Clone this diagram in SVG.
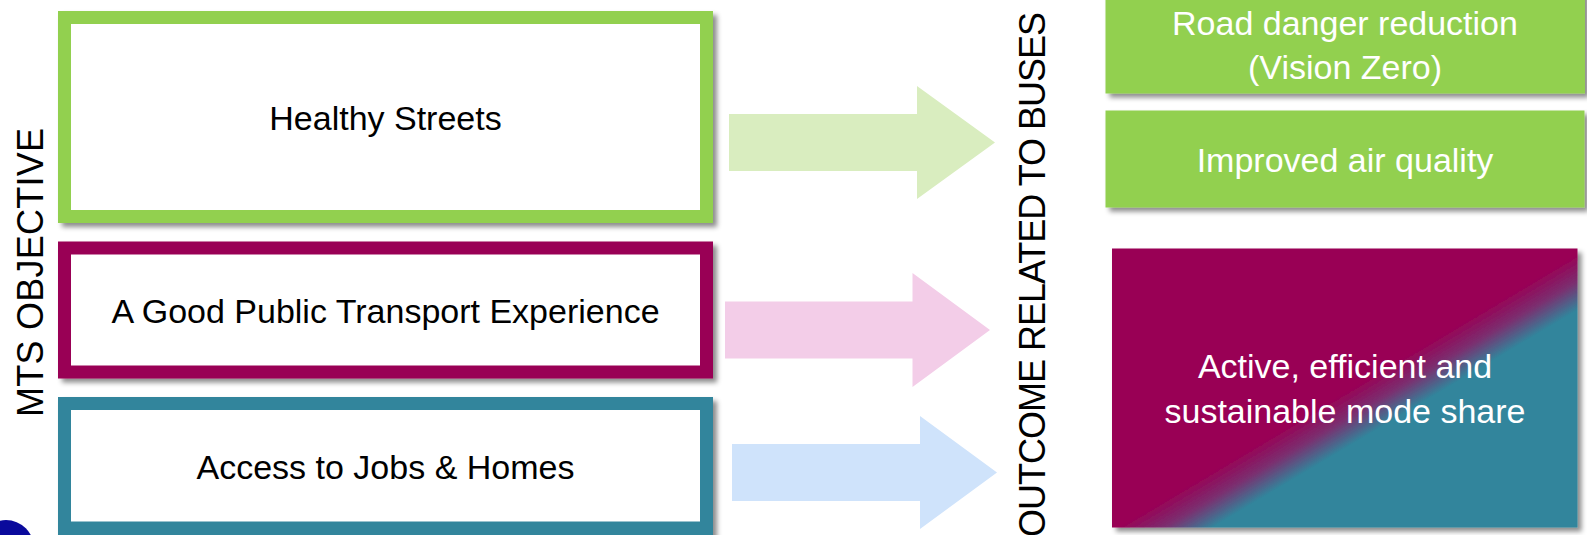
<svg xmlns="http://www.w3.org/2000/svg" width="1587" height="535" viewBox="0 0 1587 535">
  <style>
    text { font-family: "Liberation Sans", Arial, sans-serif; }
    .lbl { font-size: 34px; fill: #000; text-anchor: middle; }
    .wlbl { font-size: 34px; fill: #fff; text-anchor: middle; }
    .side { font-size: 36px; fill: #000; text-anchor: middle; }
    .inner { fill: #fff; }
  </style>
  <defs>
    <filter id="shadow" x="-5%" y="-10%" width="115%" height="130%">
      <feDropShadow dx="4" dy="4" stdDeviation="2.5" flood-color="#000" flood-opacity="0.45"/>
    </filter>
    <linearGradient id="modeGrad" gradientUnits="userSpaceOnUse" x1="1358" y1="384" x2="1383" y2="426">
      <stop offset="0" stop-color="#990055"/>
      <stop offset="0.5" stop-color="#7a3070"/>
      <stop offset="1" stop-color="#31859c"/>
    </linearGradient>
  </defs>
  <rect width="1587" height="535" fill="#fff"/>

  <circle cx="6" cy="548" r="28" fill="#0a0a9c"/>

  <text class="side" transform="translate(43,272.5) rotate(-90)" textLength="289" lengthAdjust="spacing">MTS OBJECTIVE</text>
  <text class="side" transform="translate(1045,274.5) rotate(-90)" textLength="525" lengthAdjust="spacing">OUTCOME RELATED TO BUSES</text>

  <g id="connectors">
    <polygon fill="#d9edbf" points="729,114 917,114 917,86 995,142.5 917,199 917,171 729,171"/>
    <polygon fill="#f3cde8" points="725,301.5 912.5,301.5 912.5,273 990,330 912.5,387 912.5,358.5 725,358.5"/>
    <polygon fill="#cfe3fb" points="732,444 920,444 920,416 997,472.5 920,529 920,501 732,501"/>
  </g>

  <g id="node-healthy-streets">
    <rect x="58" y="11" width="655" height="212" fill="#92d050" filter="url(#shadow)"/>
    <rect class="inner" x="71" y="24" width="629" height="186"/>
    <text class="lbl" x="385.5" y="130">Healthy Streets</text>
  </g>

  <g id="node-public-transport">
    <rect x="58" y="241.5" width="655" height="137" fill="#990055" filter="url(#shadow)"/>
    <rect class="inner" x="71" y="254.5" width="629" height="111"/>
    <text class="lbl" x="385.5" y="322.5">A Good Public Transport Experience</text>
  </g>

  <g id="node-jobs-homes">
    <rect x="58" y="397" width="655" height="140" fill="#31859c" filter="url(#shadow)"/>
    <rect class="inner" x="71" y="410" width="629" height="111.5"/>
    <text class="lbl" x="385.5" y="478.5">Access to Jobs &amp; Homes</text>
  </g>

  <g id="node-road-danger">
    <rect x="1105.5" y="-20" width="479.5" height="113.5" fill="#92d050" filter="url(#shadow)"/>
    <text class="wlbl" x="1345" y="35">Road danger reduction</text>
    <text class="wlbl" x="1345" y="78.5">(Vision Zero)</text>
  </g>

  <g id="node-air-quality">
    <rect x="1105.5" y="110.5" width="479" height="97" fill="#92d050" filter="url(#shadow)"/>
    <text class="wlbl" x="1345" y="171.5">Improved air quality</text>
  </g>

  <g id="node-mode-share">
    <rect x="1112" y="248.5" width="465.5" height="279" fill="url(#modeGrad)" filter="url(#shadow)"/>
    <text class="wlbl" x="1345" y="377.5">Active, efficient and</text>
    <text class="wlbl" x="1345" y="422.5">sustainable mode share</text>
  </g>
</svg>
